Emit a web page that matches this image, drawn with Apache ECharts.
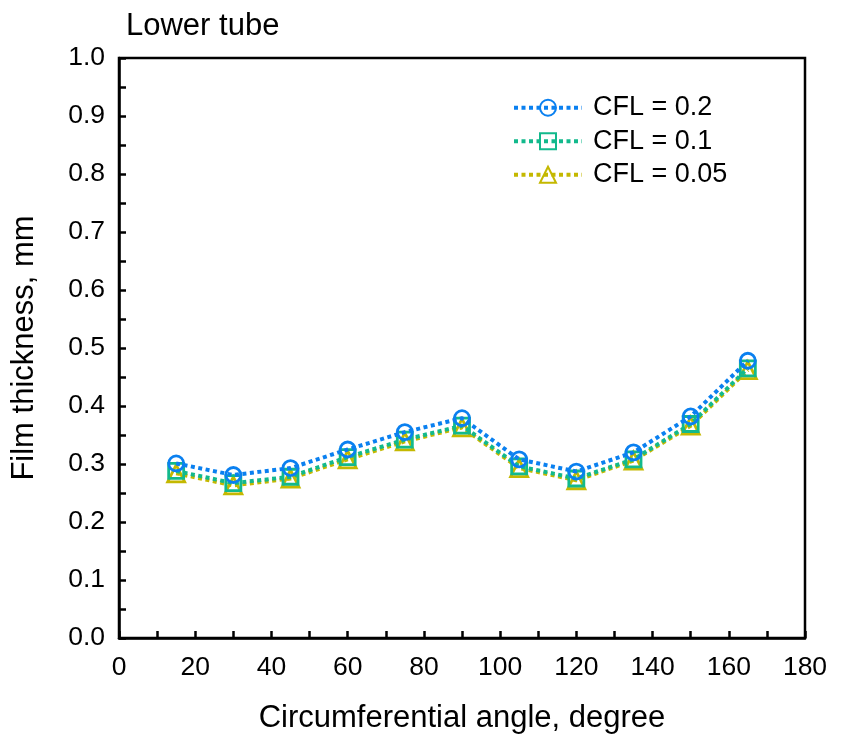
<!DOCTYPE html>
<html><head><meta charset="utf-8">
<script src="https://cdn.jsdelivr.net/npm/echarts@6/dist/echarts.min.js"></script>
<style>html,body{margin:0;padding:0;background:#fff}#c{width:843px;height:737px}</style>
</head><body><div id="c"></div>
<script>
const angles = [15, 30, 45, 60, 75, 90, 105, 120, 135, 150, 165];
const cfl02  = [0.301, 0.281, 0.293, 0.325, 0.355, 0.379, 0.308, 0.287, 0.320, 0.382, 0.478];
const cfl01  = [0.288, 0.267, 0.278, 0.312, 0.342, 0.366, 0.296, 0.275, 0.308, 0.369, 0.465];
const cfl005 = [0.284, 0.263, 0.275, 0.308, 0.339, 0.363, 0.293, 0.272, 0.306, 0.366, 0.462];
const seriesNames = ['CFL = 0.2', 'CFL = 0.1', 'CFL = 0.05'];
const colors = ['#0a80f0', '#12b98c', '#c4b800'];
const symbols = ['circle', 'rect', 'triangle'];
const values = [cfl02, cfl01, cfl005];

const font = 'Liberation Sans, Arial, sans-serif';
const dash = [4, 3.5];
const chart = echarts.init(document.getElementById('c'));
chart.setOption({
  backgroundColor: '#fff',
  animation: false,
  title: { text: 'Lower tube', left: 121, top: 6, textStyle: { fontFamily: font, fontSize: 31, fontWeight: 'normal', color: '#000' } },
  grid: { left: 119, right: 38, top: 58, bottom: 99, outerBoundsMode: 'none', containLabel: false, show: true, borderColor: '#000', borderWidth: 2.5, backgroundColor: 'transparent' },
  legend: {
    left: 507, top: 86, orient: 'vertical', itemGap: 0, itemWidth: 68, itemHeight: 20,
    textStyle: { fontFamily: font, fontSize: 27, color: '#000', lineHeight: 33.5, padding: [0, 0, 0, 6] },
    data: seriesNames.map((n, i) => ({ name: n, lineStyle: { width: 4, type: dash, color: colors[i] } }))
  },
  xAxis: {
    type: 'value', min: 0, max: 180, interval: 20,
    name: 'Circumferential angle, degree', nameLocation: 'middle', nameGap: 65,
    nameTextStyle: { fontFamily: font, fontSize: 31, color: '#000' },
    axisLine: { lineStyle: { color: '#000', width: 2.5 } },
    axisTick: { inside: true, length: 7, lineStyle: { color: '#000', width: 2.5 } },
    minorTick: { show: true, splitNumber: 2, length: 7, lineStyle: { color: '#000', width: 2.5 } },
    splitLine: { show: false },
    axisLabel: { fontFamily: font, fontSize: 26.5, color: '#000', margin: 16 }
  },
  yAxis: {
    type: 'value', min: 0, max: 1, interval: 0.1,
    name: 'Film thickness, mm', nameLocation: 'middle', nameGap: 79,
    nameTextStyle: { fontFamily: font, fontSize: 31, color: '#000' },
    axisLine: { lineStyle: { color: '#000', width: 2.5 } },
    axisTick: { inside: true, length: 7, lineStyle: { color: '#000', width: 2.5 } },
    minorTick: { show: true, splitNumber: 2, length: 7, lineStyle: { color: '#000', width: 2.5 } },
    splitLine: { show: false },
    axisLabel: { fontFamily: font, fontSize: 26.5, color: '#000', margin: 14, formatter: v => v.toFixed(1) }
  },
  series: values.map((vals, i) => ({
    name: seriesNames[i], type: 'line',
    data: angles.map((a, j) => [a, vals[j]]),
    symbol: symbols[i], symbolSize: i === 2 ? 17 : 15,
    z: 3 - i,
    lineStyle: { color: colors[i], width: 4, type: dash },
    itemStyle: { color: '#ffffff00', borderColor: colors[i], borderWidth: 2.8 },
    emphasis: { disabled: true }
  }))
});
</script></body></html>
